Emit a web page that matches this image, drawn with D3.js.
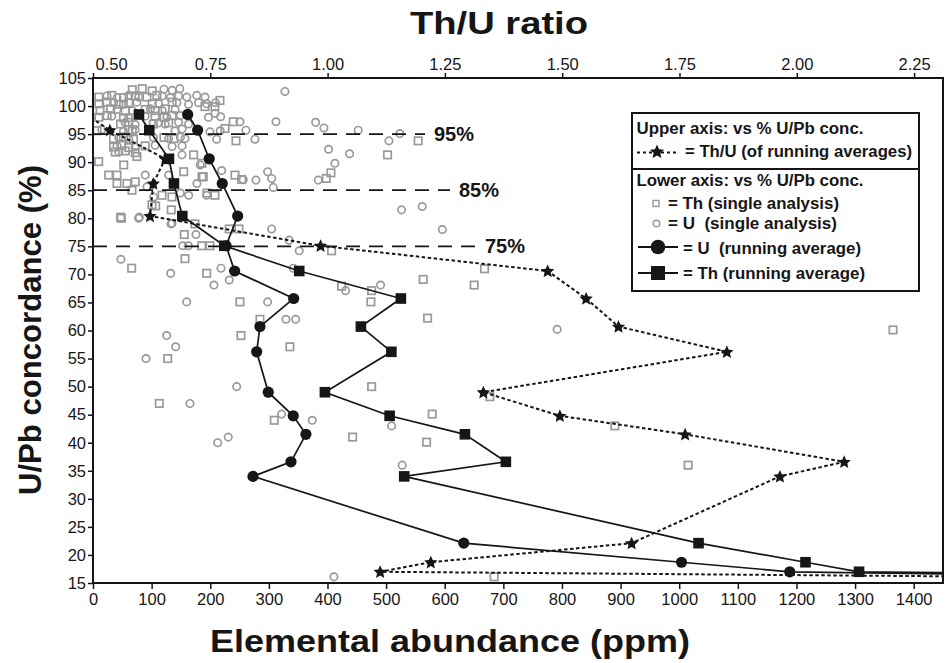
<!DOCTYPE html>
<html><head><meta charset="utf-8">
<script src="https://cdn.jsdelivr.net/npm/d3@7"></script>
<style>body{margin:0;background:#fff} text{font-family:"Liberation Sans",Arial,Helvetica,sans-serif}</style>
</head><body><svg id="c" width="946" height="663"></svg>
<script>
// ---------- DATA ----------
const xTicks = [0,100,200,300,400,500,600,700,800,900,1000,1100,1200,1300,1400];
const yTicks = [15,20,25,30,35,40,45,50,55,60,65,70,75,80,85,90,95,100,105];
const topTicks = [0.50,0.75,1.00,1.25,1.50,1.75,2.00,2.25];
const refLevels = [95,85,75];
const refLabels = ["95%","85%","75%"];

// running averages: concordance level, U (ppm), Th (ppm), Th/U
const runConc = [98.5,95.7,90.6,86.2,80.4,75.1,70.6,65.7,60.7,56.2,49.0,44.8,41.5,36.6,34.0,22.1,18.7,17.0,15.5];
const runU    = [161.5,178.5,198.3,220.5,246.8,227,241.6,342.3,284.8,279.2,299,341.6,363.2,337.7,272.9,632.5,1003.9,1188.6,2200];
const runTh   = [78.4,96,129.6,138.1,152.3,224,351.8,525.2,457,509,395.6,506,634.4,704.3,530.9,1033,1215.4,1306.8,2650];
const runThU  = [0.485,0.536,0.654,0.6285,0.6215,0.985,1.469,1.551,1.620,1.851,1.332,1.495,1.762,2.101,1.964,1.648,1.220,1.112,3.35];

// single analyses [ppm, % concordance]
const thSingle = [
 [67,102.9],[84,103.1],[101,102.7],
 [10,101.6],[32,101.9],[52,101.5],[72,101.8],[92,101.6],[109,101.9],
 [10,100.4],[24,100.7],[44,100.3],[61,100.6],[101,100.4],[135,100.7],
 [12,99.2],[30,99.5],[55,99.1],[89,99.4],[106,99.2],[123,99.5],
 [10,98.0],[24,98.3],[52,97.9],[106,98.2],[121,98.0],[135,98.3],
 [47,96.8],[61,97.1],[103,96.8],[129,97.0],
 [7,95.6],[61,95.8],[67,95.5],
 [35,94.2],[52,94.5],[69,94.1],[121,94.4],[138,94.2],
 [35,92.7],[49,93.0],[61,92.6],[89,92.9],
 [38,91.8],[55,92.0],[72,91.7],
 [216.6,101.0],[208,99.9],[191,99.9],[239.3,97.2],[225.1,96.0],[243.9,93.8],[554.7,93.8],[502.5,91.3],
 [242.2,87.7],[253.6,86.9],[188.1,87.4],[208,84.1],[397.9,87.1],[405.9,88.1],
 [9.7,90.1],[75,91.0],[52.4,89.5],[26.8,87.7],[40.9,87.7],[40.9,86.2],[58,86.2],[72.1,86.5],[66.5,85.0],
 [117.7,84.1],[134.7,83.8],[100.6,82.4],[133.5,81.5],[48.3,80.0],[154.7,88.3],[171.7,91.3],[185.9,89.8],
 [185.9,87.4],[194.4,84.5],
 [47.2,80.2],[106.9,82.2],[173.9,79.0],[232.4,78.1],[249,78.1],[155.7,77.1],[185.4,75.1],[199.5,75.1],
 [156.9,72.8],[66,71.1],[193.9,70.2],[250.7,65.1],[284.8,62.0],[252.4,59.1],[335.9,57.1],[407,74.2],
 [563.3,69.1],[650.2,68.1],[424.1,67.9],[475.3,67.1],[474.1,65.1],[570.8,62.2],[668,71.0],
 [127.4,55.0],[113.1,47.0],[475.3,50.0],[309.2,44.0],[442.9,41.0],
 [677,48.2],[578.6,45.1],[569.1,40.1],[890.2,43.0],[1015.2,36.0],[684.3,16.1],[1364.7,60.1]
];
const uSingle = [
 [121,103.0],[135,102.8],[148,103.1],
 [24,101.8],[41,101.5],[61,101.9],[78,101.6],[118,101.8],[132,101.5],[146,101.8],[160,101.6],[177,101.9],[191,101.6],
 [35,100.6],[52,100.3],[75,100.7],[112,100.4],[143,100.6],[163,100.3],[180,100.6],[194,100.4],[209,100.6],
 [41,99.4],[67,99.2],[98,99.5],[118,99.2],[140,99.4],
 [32,98.2],[61,97.9],[89,98.2],[126,98.0],[149,98.3],[197,98.0],
 [55,97.0],[72,96.7],[112,97.0],[123,96.8],[146,97.1],[163,96.8],
 [15,95.8],[52,95.5],[72,95.8],[140,95.6],[152,95.9],[217,95.6],
 [44,94.4],[61,94.1],[103,94.4],[129,94.2],[149,94.5],[157,94.2],
 [41,92.9],[72,92.7],[106,93.0],[135,92.8],[152,92.9],
 [44,91.8],
 [327.4,102.6],[312.1,97.2],[379.8,97.1],[393.9,96.1],[452.4,95.7],[523.5,95.1],[504.8,93.8],[401.9,92.3],
 [437.8,91.5],[412.7,89.8],[384.2,86.8],[297.9,88.3],[304.7,87.1],[307.5,85.5],[278,86.8],[256.3,86.9],
 [276.3,94.1],[260.9,95.7],[250.7,97.2],[217.8,98.1],[208.1,98.7],[199.5,95.4],[210.9,94.1],[219.5,88.5],[193.9,84.1],
 [89.2,87.7],[77.9,80.0],[151.8,91.3],[183,89.5],[129.1,87.7],[177.3,86.2],[163.2,84.1],[148.9,84.5],
 [134.7,79.1],[92.1,85.6],[103.5,83.8],
 [79,80.2],[133,79.0],[175.6,77.1],[304.7,78.1],[334.7,76.1],[351.8,74.2],[47.7,72.7],[132.5,70.2],
 [218.3,71.1],[232.4,69.0],[206.3,68.1],[159.8,65.1],[297.9,65.1],[329.1,62.0],[345.7,62.0],[125.7,59.1],
 [141,57.1],[153,75.1],[162.5,75.1],[341.6,71.1],[490.6,68.1],[430.9,67.1],[526.4,81.5],[561.6,82.1],[596,78.0],
 [90.4,55.0],[165.4,47.0],[245.1,50.0],[321.8,45.1],[374,44.0],[212.7,40.0],[230.7,41.0],[411,16.1],
 [791.8,60.2],[509.4,43.0],[527.5,36.0]
];

// ---------- CHART ----------
const svg = d3.select("#c");
const L = 93, R = 943, T = 78, B = 583;
const x = d3.scaleLinear().domain([0,1450]).range([L,R]);
const xTop = d3.scaleLinear().domain([0.5,2.3116]).range([L,R]);
const y = d3.scaleLinear().domain([15,105]).range([B,T]);
const ink = "#161616", gray = "#999";

// fat 5-point star symbol
const fatStar = { draw(ctx, size){
  const r = Math.sqrt(size), ri = r*0.47;
  for (let k=0;k<10;k++){
    const a = -Math.PI/2 + k*Math.PI/5, rr = k%2 ? ri : r;
    const px = rr*Math.cos(a), py = rr*Math.sin(a);
    k ? ctx.lineTo(px,py) : ctx.moveTo(px,py);
  }
  ctx.closePath();
}};

svg.append("rect").attr("width",946).attr("height",663).attr("fill","#fff");
svg.append("defs").append("clipPath").attr("id","clip")
  .append("rect").attr("x",L).attr("y",T).attr("width",R-L).attr("height",B-T);

const plot = svg.append("g").attr("clip-path","url(#clip)");

// single analyses
plot.append("g").selectAll("rect").data(thSingle).join("rect")
  .attr("x",d=>x(d[0])-3.7).attr("y",d=>y(d[1])-3.7).attr("width",7.4).attr("height",7.4)
  .attr("fill","none").attr("stroke",gray).attr("stroke-width",1.7);
plot.append("g").selectAll("circle").data(uSingle).join("circle")
  .attr("cx",d=>x(d[0])).attr("cy",d=>y(d[1])).attr("r",3.7)
  .attr("fill","none").attr("stroke",gray).attr("stroke-width",1.7);

// reference lines
const labelX = [434,459,485];
refLevels.forEach((lv,i)=>{
  svg.append("line").attr("x1",L).attr("x2",labelX[i]-9).attr("y1",y(lv)).attr("y2",y(lv))
    .attr("stroke",ink).attr("stroke-width",1.7).attr("stroke-dasharray","14,9");
  svg.append("text").attr("x",labelX[i]).attr("y",y(lv)+7).attr("font-size",20).attr("font-weight","bold")
    .attr("fill",ink).text(refLabels[i]);
});

const idx = d3.range(runConc.length);
// Th/U dashed line
plot.append("path").datum(idx)
  .attr("d",d3.line().x(i=>xTop(runThU[i])).y(i=>y(runConc[i])))
  .attr("fill","none").attr("stroke",ink).attr("stroke-width",2).attr("stroke-dasharray","3.5,2.5");
// running average lines
plot.append("path").datum(idx)
  .attr("d",d3.line().x(i=>x(runU[i])).y(i=>y(runConc[i])))
  .attr("fill","none").attr("stroke",ink).attr("stroke-width",1.7);
plot.append("path").datum(idx)
  .attr("d",d3.line().x(i=>x(runTh[i])).y(i=>y(runConc[i])))
  .attr("fill","none").attr("stroke",ink).attr("stroke-width",1.7);

plot.append("g").selectAll("circle").data(idx).join("circle")
  .attr("cx",i=>x(runU[i])).attr("cy",i=>y(runConc[i])).attr("r",5.6).attr("fill",ink);
plot.append("g").selectAll("rect").data(idx).join("rect")
  .attr("x",i=>x(runTh[i])-5.3).attr("y",i=>y(runConc[i])-5.3).attr("width",10.6).attr("height",10.6).attr("fill",ink);
const star = d3.symbol().type(fatStar).size(49);
plot.append("g").selectAll("path").data(idx).join("path")
  .attr("transform",i=>`translate(${xTop(runThU[i])},${y(runConc[i])+0.5})`).attr("d",star).attr("fill",ink);

// frame
svg.append("rect").attr("x",L).attr("y",T).attr("width",R-L).attr("height",B-T)
  .attr("fill","none").attr("stroke",ink).attr("stroke-width",2);

// axes
function styleAxis(g){
  g.select(".domain").remove();
  g.selectAll(".tick line").attr("stroke",ink).attr("stroke-width",1.5);
  g.selectAll(".tick text").attr("font-size",16.5).attr("fill",ink).attr("font-family","Liberation Sans, Arial, sans-serif");
}
svg.append("g").attr("transform",`translate(0,${B})`)
  .call(d3.axisBottom(x).tickValues(xTicks).tickSize(6).tickPadding(4).tickFormat(d3.format("d"))).call(styleAxis);
svg.append("g").attr("transform",`translate(${L},0)`)
  .call(d3.axisLeft(y).tickValues(yTicks).tickSize(5).tickPadding(2).tickFormat(d3.format("d"))).call(styleAxis);
const gTop = svg.append("g").attr("transform",`translate(0,${T})`)
  .call(d3.axisTop(xTop).tickValues(topTicks).tickSize(5).tickPadding(3).tickFormat(d3.format(".2f"))).call(styleAxis);
gTop.selectAll(".tick text").filter(d=>d===0.5).attr("text-anchor","start").attr("x",2);

// titles
svg.append("text").attr("x",499).attr("y",34).attr("text-anchor","middle")
  .attr("font-size",32).attr("font-weight","bold").attr("fill",ink)
  .attr("textLength",178).attr("lengthAdjust","spacingAndGlyphs").text("Th/U ratio");
svg.append("text").attr("x",450).attr("y",652).attr("text-anchor","middle")
  .attr("font-size",32).attr("font-weight","bold").attr("fill",ink)
  .attr("textLength",480).attr("lengthAdjust","spacingAndGlyphs").text("Elemental abundance (ppm)");
svg.append("text").attr("transform","translate(41,330) rotate(-90)").attr("text-anchor","middle")
  .attr("font-size",31).attr("font-weight","bold").attr("fill",ink)
  .attr("textLength",330).attr("lengthAdjust","spacingAndGlyphs").text("U/Pb concordance (%)");

// legend
const lg = svg.append("g");
lg.append("rect").attr("x",632).attr("y",113).attr("width",287).attr("height",178)
  .attr("fill","#fff").attr("stroke",ink).attr("stroke-width",2);
lg.append("line").attr("x1",632).attr("x2",919).attr("y1",169).attr("y2",169).attr("stroke",ink).attr("stroke-width",2);
const lt = (xx,yy,w,s)=>lg.append("text").attr("x",xx).attr("y",yy).attr("font-size",16)
  .attr("font-weight","bold").attr("fill",ink).attr("textLength",w).attr("lengthAdjust","spacingAndGlyphs").text(s);
lt(636.5,133.5,227,"Upper axis: vs % U/Pb conc.");
lg.append("line").attr("x1",637).attr("x2",679).attr("y1",152.5).attr("y2",152.5)
  .attr("stroke",ink).attr("stroke-width",2).attr("stroke-dasharray","3,3");
lg.append("path").attr("transform","translate(657,152)").attr("d",d3.symbol().type(fatStar).size(56)).attr("fill",ink);
lt(685,157,227,"= Th/U (of running averages)");
lt(636.5,186,227,"Lower axis: vs % U/Pb conc.");
lg.append("rect").attr("x",653).attr("y",200.5).attr("width",6).attr("height",6)
  .attr("fill","none").attr("stroke",gray).attr("stroke-width",1.4);
lt(668,208.5,171,"= Th (single analysis)");
lg.append("circle").attr("cx",656.5).attr("cy",223.5).attr("r",3.3)
  .attr("fill","none").attr("stroke",gray).attr("stroke-width",1.4);
lt(668,228.5,169,"= U\u00a0\u00a0(single analysis)");
lg.append("line").attr("x1",638).attr("x2",678).attr("y1",247).attr("y2",247).attr("stroke",ink).attr("stroke-width",2.2);
lg.append("circle").attr("cx",658).attr("cy",247).attr("r",7.3).attr("fill",ink);
lt(683,253.5,178,"= U\u00a0\u00a0(running average)");
lg.append("line").attr("x1",638).attr("x2",678).attr("y1",273).attr("y2",273).attr("stroke",ink).attr("stroke-width",2.2);
lg.append("rect").attr("x",651).attr("y",266).attr("width",14).attr("height",14).attr("fill",ink);
lt(683,279,182,"= Th (running average)");
</script></body></html>
